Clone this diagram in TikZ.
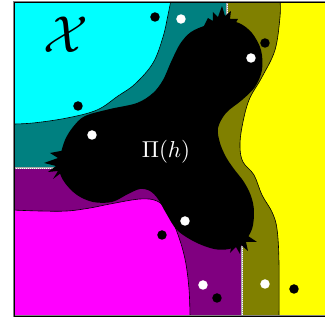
\documentclass[tikz,border=0pt]{standalone}
\usepackage{amsmath}
\definecolor{cCyan}{RGB}{0,255,255}
\definecolor{cTeal}{RGB}{0,128,128}
\definecolor{cOlive}{RGB}{128,128,0}
\definecolor{cYellow}{RGB}{255,255,0}
\definecolor{cPurple}{RGB}{128,0,128}
\definecolor{cMagenta}{RGB}{255,0,255}
\tikzset{
  bdot/.style={circle,fill=black,inner sep=0pt,minimum size=9.5pt},
  wdot/.style={circle,fill=white,inner sep=0pt,minimum size=9.5pt},
  edgeline/.style={black,line width=0.6pt},
  seamgray/.style={gray!70,line width=1.2pt},
  seamdots/.style={white,line width=0.8pt,dash pattern=on 0.8pt off 1.2pt},
}
\begin{document}
\begin{tikzpicture}[x=1pt,y=-1pt]
\useasboundingbox (0,0) rectangle (325,324);
\begin{scope}
\clip (14,2) rectangle (325,316);
% yellow background
\fill[cYellow] (14,2) rectangle (330,316);
% olive
\fill[cOlive] (14,2) -- plot[smooth,tension=0.6] coordinates {(280,2) (280,17) (275,50) (262,77) (249,100) (242,127) (240,147) (243,162) (254,175) (262,195) (272,212) (277,229) (279,262) (279,316)} -- (14,316) -- cycle;
% teal
\fill[cTeal] (14,2) -- (227,2) -- (227,40) -- (150,150) -- (60,168) -- (14,168) -- cycle;
% purple
\fill[cPurple] (14,168) -- (60,168) -- (150,160) -- (240,200) -- (242,245) -- (242,316) -- (14,316) -- cycle;
% magenta
\fill[cMagenta] plot[smooth,tension=0.6] coordinates {(12,210) (40,211) (67,211) (90,208) (110,204) (140,199) (157,201) (167,211) (177,232) (185,259) (189,289) (190,318)} -- (12,318) -- cycle;
% cyan
\fill[cCyan] (12,0) -- plot[smooth,tension=0.6] coordinates {(171,0) (168,15) (163,37) (153,63) (135,84) (118,96) (97,110) (67,118) (33,123) (12,124)} -- cycle;
% outlines
\draw[edgeline] plot[smooth,tension=0.6] coordinates {(171,0) (168,15) (163,37) (153,63) (135,84) (118,96) (97,110) (67,118) (33,123) (12,124)};
\draw[edgeline] plot[smooth,tension=0.6] coordinates {(12,210) (40,211) (67,211) (90,208) (110,204) (140,199) (157,201) (167,211) (177,232) (185,259) (189,289) (190,318)};
\draw[edgeline] plot[smooth,tension=0.6] coordinates {(280,0) (280,17) (275,50) (262,77) (249,100) (242,127) (240,147) (243,162) (254,175) (262,195) (272,212) (277,229) (279,262) (279,318)};
% seams
\draw[seamgray] (14,168) -- (56,168);
\draw[seamdots] (14,168) -- (56,168);
\draw[seamgray] (227,2) -- (227,17);
\draw[seamdots] (227,2) -- (227,17);
\draw[seamgray] (242,246) -- (242,316);
\draw[seamdots] (242,246) -- (242,316);
% black blob
\fill[black] plot[smooth cycle,tension=0.55] coordinates {
 (60,157) (65,140) (73,127) (85,116) (110,109) (137,103) (153,93) (163,80) (171,62) (180,44) (191,32) (207,25) (224,21) (239,23) (252,33) (261,50) (262,70) (255,87) (242,100) (226,113) (218,128) (220,143) (226,157) (234,169) (244,182) (251,196) (254,211) (252,229) (243,243) (229,249) (214,249) (195,242) (177,230) (166,213) (158,199) (150,191) (140,189) (128,194) (112,202) (93,202) (77,195) (65,183) (59,170)};
% spikes
\fill[black] (204,26) -- (208,18) -- (213,21) -- (213,12) -- (218,17) -- (222,6) -- (225,16) -- (231,11) -- (230,19) -- (238,19) -- (234,26) -- cycle;
\fill[black] (66,150) -- (50,153) -- (58,158) -- (44,163) -- (56,166) -- (48,172) -- (58,171) -- (53,179) -- (61,173) -- (63,180) -- (69,172) -- cycle;
\fill[black] (252,226) -- (248,236) -- (257,242) -- (246,242) -- (248,251) -- (241,245) -- (240,254) -- (236,247) -- (230,253) -- (232,244) -- (238,236) -- cycle;
\end{scope}
% frame
\draw[gray,line width=2pt] (14,2) rectangle (330,316);
\draw[black,line width=0.5pt] (14,2) rectangle (330,316);
% dots
\node[bdot] (b1) at (155,17) {};
\node[bdot] (b2) at (265,43) {};
\node[bdot] (b3) at (78,106) {};
\node[bdot] (b4) at (162,235) {};
\node[bdot] (b5) at (217,298) {};
\node[bdot] (b6) at (294,289) {};
\node[wdot] (w1) at (181,19) {};
\node[wdot] (w2) at (251,58) {};
\node[wdot] (w3) at (92,135) {};
\node[wdot] (w4) at (185,221) {};
\node[wdot] (w5) at (203,285) {};
\node[wdot] (w6) at (265,284) {};
% labels
\node[white,scale=2.3] (pih) at (166,152) {$\Pi(h)$};
\node[black,scale=5.2] (calx) at (66,35) {$\mathcal{X}$};
\end{tikzpicture}
\end{document}
